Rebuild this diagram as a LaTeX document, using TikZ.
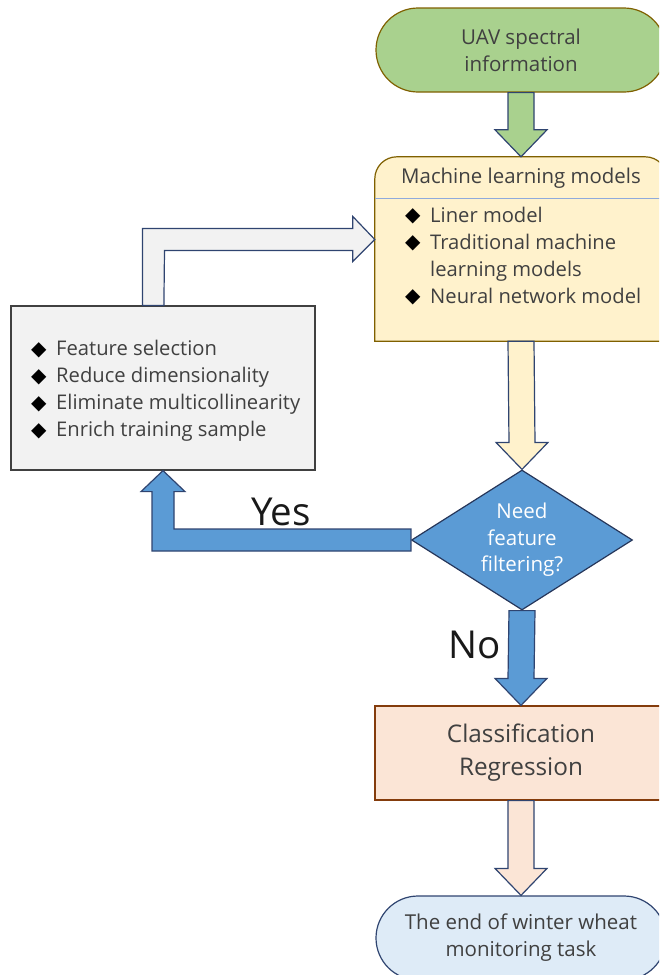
\documentclass[tikz,border=0pt]{standalone}
\usepackage{fontspec}
\setmainfont{Open Sans}
\newfontfamily\symfont{DejaVu Sans}
\usetikzlibrary{shapes.geometric,calc}

\definecolor{txt}{HTML}{404040}
\definecolor{navy}{HTML}{2F4470}
\definecolor{greenfill}{HTML}{A9D18E}
\definecolor{olive}{HTML}{7F6000}
\definecolor{creamfill}{HTML}{FFF2CC}
\definecolor{sepline}{HTML}{8FAADC}
\definecolor{peachfill}{HTML}{FBE5D6}
\definecolor{brown}{HTML}{843C0C}
\definecolor{skyfill}{HTML}{DEEBF7}
\definecolor{bluefill}{HTML}{5B9BD5}
\definecolor{greyfill}{HTML}{F2F2F2}
\definecolor{greyline}{HTML}{404040}

\tikzset{
  box/.style={inner sep=0pt, line width=1.2pt},
  terminal/.style={box, rectangle, rounded corners=42pt, minimum width=290pt, minimum height=84pt,
    align=center, text=txt, font=\fontsize{20.5}{27}\selectfont},
  blockarrow/.style={draw=navy, line width=1.2pt, line join=miter},
  listtext/.style={inner sep=0pt, align=left, text=txt, font=\fontsize{20.2}{27}\selectfont},
  answer/.style={inner sep=0pt, text=black!90, font=\fontsize{38.5}{40}\selectfont},
}

% a list item led by a black diamond
\newcommand\itemdia{\makebox[25pt][l]{\raisebox{0.5pt}{\symfont\fontsize{20}{20}\selectfont\color{black}◆}}}

% downward block arrow from #1 to tip #2, filled with #3
\newcommand\downblock[3]{%
  \draw[blockarrow, fill=#3]
    ($(#1)+(-13,0)$) -- ($(#2)+(-13,-27)$) -- ($(#2)+(-26,-27)$) -- (#2)
    -- ($(#2)+(26,-27)$) -- ($(#2)+(13,-27)$) -- ($(#1)+(13,0)$) -- cycle;}

\begin{document}
\begin{tikzpicture}[x=1pt,y=-1pt]
\useasboundingbox (0,0) rectangle (659,975);
\clip (0,0) rectangle (659,975);

% start terminal
\node[terminal, draw=olive, fill=greenfill] (start) at (521,50) {UAV spectral\\information};

% model box with rounded top corners
\node[inner sep=0pt, minimum width=292pt, minimum height=184pt] (ml) at (521,249) {};
\draw[box, draw=olive, fill=creamfill]
  (ml.south west) [rounded corners=22pt] -- (ml.north west) -- (ml.north east)
  [sharp corners] -- (ml.south east) -- cycle;
\draw[sepline, line width=1pt] ($(ml.north west)+(0,42)$) -- ($(ml.north east)+(0,42)$);
\node[text=txt, inner sep=0pt, font=\fontsize{20.4}{27}\selectfont] (mltitle) at (521,178.5) {Machine learning models};
\node[listtext, anchor=west] (mllist) at (405,256)
  {\itemdia Liner model\\
   \itemdia Traditional machine\\
   \hspace*{25pt}learning models\\
   \itemdia Neural network model};

% decision
\node[diamond, aspect=1.58, minimum width=221pt, minimum height=140pt, inner sep=0pt,
  draw=navy!80!black, line width=1.2pt, fill=bluefill, text=white, align=center,
  font=\fontsize{20.5}{26.5}\selectfont] (dec) at (522,540) {Need\\feature\\filtering?};

% feature processing box
\node[box, draw=greyline, fill=greyfill, minimum width=304pt, minimum height=164pt] (feat) at (163,388) {};
\node[listtext, anchor=west] (featlist) at (31,391)
  {\itemdia Feature selection\\
   \itemdia Reduce dimensionality\\
   \itemdia Eliminate multicollinearity\\
   \itemdia Enrich training sample};

% result box
\node[box, draw=brown, fill=peachfill, minimum width=292pt, minimum height=94pt,
  align=center, text=txt, font=\fontsize{24.3}{33}\selectfont] (res) at (521,753) {Classification\\Regression};

% end terminal
\node[terminal, draw=navy, fill=skyfill] (stop) at (521,938) {The end of winter wheat\\monitoring task};

% vertical connectors
\downblock{start.south}{ml.north}{greenfill}
\downblock{ml.south}{dec.north}{creamfill}
\downblock{dec.south}{res.north}{bluefill}
\downblock{res.south}{stop.north}{peachfill}

% Yes branch back to the feature box
\coordinate (yesbend) at (feat.south |- dec.west);
\draw[blockarrow, fill=bluefill]
  ($(dec.west)+(0,-11)$) -- ($(yesbend)+(11,-11)$) -- ($(feat.south)+(11,21)$)
  -- ($(feat.south)+(22,21)$) -- (feat.south) -- ($(feat.south)+(-22,21)$)
  -- ($(feat.south)+(-11,21)$) -- ($(yesbend)+(-11,11)$) -- ($(dec.west)+(0,11)$) -- cycle;
\node[answer] (yes) at (281,512) {Yes};
\node[answer] (no) at (475,645) {No};

% loop from the feature box back into the models
\coordinate (loopbend) at (153.5,239.5);
\coordinate (looptip) at (ml.west |- loopbend);
\draw[blockarrow, fill=greyfill]
  ($(feat.north west)+(132,0)$) -- ($(loopbend)+(-11,-11)$) -- ($(looptip)+(-22,-11)$)
  -- ($(looptip)+(-22,-23)$) -- (looptip) -- ($(looptip)+(-22,22)$)
  -- ($(looptip)+(-22,11)$) -- ($(loopbend)+(11,11)$) -- ($(feat.north west)+(153.5,0)$) -- cycle;
\end{tikzpicture}
\end{document}
